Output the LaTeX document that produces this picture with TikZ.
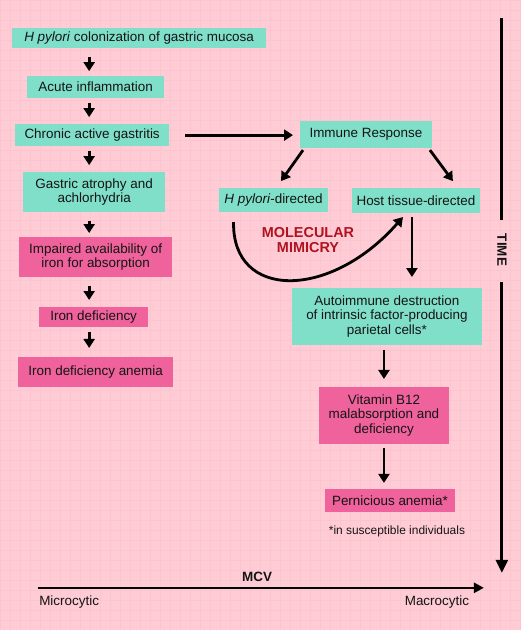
\documentclass[tikz,border=0pt]{standalone}
\usepackage{fontspec}
\setmainfont{Liberation Sans}
\usetikzlibrary{arrows.meta,calc}
\definecolor{bgpink}{HTML}{FFCCD6}
\definecolor{gridpink}{HTML}{FBC5D0}
\definecolor{tealbox}{HTML}{80DFC9}
\definecolor{magbox}{HTML}{F0629C}
\definecolor{mimic}{HTML}{B0121F}
\definecolor{ink}{HTML}{141414}
\begin{document}
\begin{tikzpicture}[x=1bp,y=-1bp,
  every node/.style={inner sep=0pt,outer sep=0pt,text=ink,font=\fontsize{13.5}{14.5}\selectfont,align=center},
  tbox/.style={fill=tealbox,minimum width=#1},
  mbox/.style={fill=magbox,minimum width=#1},
  arr/.style={line width=2.8bp,-{Triangle[length=9bp,width=11bp]}},
  bigarr/.style={line width=2.8bp,-{Triangle[length=13bp,width=12bp]}},
  sharr/.style={arr,shorten <=5bp,shorten >=7bp}]
% background
\fill[bgpink] (0,0) rectangle (520,630);
\draw[gridpink,line width=0.4bp,step=10bp] (0,0) grid (520,630);
\useasboundingbox (0,0) rectangle (520,630);
% left column
\node[tbox=254bp,minimum height=20bp] (n1) at (139,38) {\textit{H pylori} colonization of gastric mucosa};
\node[tbox=137bp,minimum height=22bp] (n2) at (95.5,87) {Acute inflammation};
\node[tbox=154bp,minimum height=22bp] (n3) at (92,135) {Chronic active gastritis};
\node[tbox=142bp,minimum height=40bp] (n4) at (94,192) {Gastric atrophy and\\achlorhydria};
\node[mbox=153bp,minimum height=40bp] (n5) at (95.5,257) {Impaired availability of\\iron for absorption};
\node[mbox=109bp,minimum height=20bp] (n6) at (93.5,317) {Iron deficiency};
\node[mbox=155bp,minimum height=30bp] (n7) at (95.5,372) {Iron deficiency anemia};
\coordinate (ax) at (89,0);
\draw[sharr,shorten <=9bp,shorten >=5bp] (n1.south -| ax) -- (n2.north -| ax);
\draw[sharr] (n2.south -| ax) -- (n3.north -| ax);
\draw[sharr] (n3.south -| ax) -- (n4.north -| ax);
\draw[sharr,shorten <=9bp,shorten >=4bp] (n4.south -| ax) -- (n5.north -| ax);
\draw[sharr,shorten <=9bp] (n5.south -| ax) -- (n6.north -| ax);
\draw[sharr,shorten <=5bp,shorten >=9bp] (n6.south -| ax) -- (n7.north -| ax);
% right column
\node[tbox=132bp,minimum height=27bp] (n8) at (366,134.5) {Immune Response};
\node[tbox=109bp,minimum height=24bp] (n9) at (273.5,200) {\textit{H pylori}-directed};
\node[tbox=128bp,minimum height=25bp] (n10) at (416,200.5) {Host tissue-directed};
\node[tbox=190bp,minimum height=57bp] (n11) at (387,316.5) {Autoimmune destruction\\of intrinsic factor-producing\\parietal cells*};
\node[mbox=130bp,minimum height=57bp] (n12) at (384,415.5) {Vitamin B12\\malabsorption and\\deficiency};
\node[mbox=130bp,minimum height=23bp] (n13) at (390,500.5) {Pernicious anemia*};
\node[font=\fontsize{12}{14}\selectfont] (foot) at (397,532) {*in susceptible individuals};
\node[font=\fontsize{14.5}{15}\selectfont\bfseries,text=mimic] (mm) at (308,240) {MOLECULAR\\MIMICRY};
\draw[arr,shorten <=16bp,shorten >=7bp] (n3.east) -- (n3.east -| n8.west);
\draw[arr] ($(n8.south west)+(3,2)$) -- ($(n9.north)+(7.5,-7)$);
\draw[arr] ($(n8.south east)+(-2,2)$) -- ($(n10.north)+(37,-7)$);
\coordinate (c10) at ($(n10.south)+(-4,0)$);
\draw[arr,shorten <=4bp,shorten >=11bp] (c10) -- (c10 |- n11.north);
\draw[arr,shorten <=5bp,shorten >=8bp] (n11.south -| n12.north) -- (n12.north);
\draw[arr,shorten <=4bp,shorten >=6bp] (n12.south) -- (n12.south |- n13.north);
\draw[arr] ($(n9.south)+(-40,10)$) .. controls +(-1.5,78) and +(-73,83) .. ($(n10.south)+(-13,4)$);
% TIME axis
\node[font=\fontsize{13.5}{14}\selectfont\bfseries,rotate=-90] (time) at (502,250) {TIME};
\coordinate (t1) at (502,18);
\coordinate (t2) at (502,220);
\coordinate (t3) at (502,282);
\coordinate (t4) at (502,573);
\draw[line width=2.8bp] (t1) -- (t2);
\draw[bigarr] (t3) -- (t4);
% MCV axis
\coordinate (m1) at (38,588);
\coordinate (m2) at (484,588);
\draw[line width=2.6bp,-{Triangle[length=10bp,width=10bp]}] (m1) -- (m2);
\node[font=\fontsize{13.5}{14}\selectfont\bfseries] (mcv) at (257,577) {MCV};
\node (micro) at (69,602) {Microcytic};
\node (macro) at (437,602) {Macrocytic};
\end{tikzpicture}
\end{document}
